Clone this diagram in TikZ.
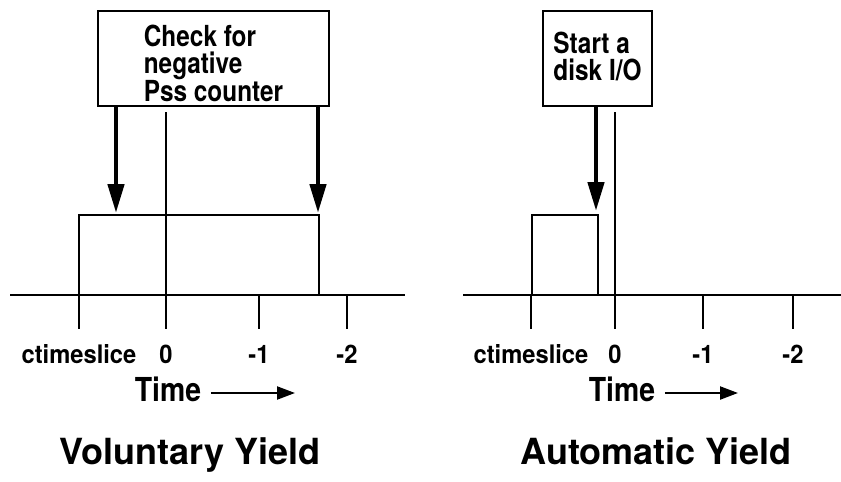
\documentclass[tikz,border=0pt]{standalone}
\usepackage{fontspec}
\setmainfont{TeX Gyre Heros}
\newfontfamily\boxfont[FakeStretch=0.84]{TeX Gyre Heros}
\newfontfamily\labfont[FakeStretch=0.93]{TeX Gyre Heros}
\newfontfamily\timefont[FakeStretch=0.86]{TeX Gyre Heros}
\usetikzlibrary{arrows.meta}

\begin{document}
\begin{tikzpicture}[x=1pt, y=-1pt, line width=1.6pt,
  eventbox/.style={draw, line width=1.8pt, inner sep=0pt, minimum height=95pt,
    text height=10pt, font=\boxfont\bfseries\fontsize{29}{27.5}\selectfont},
  yieldarrow/.style={line width=4.6pt, -{Triangle[width=16pt,length=29pt]}},
  ticklabel/.style={anchor=base, inner sep=0pt,
    font=\labfont\bfseries\fontsize{25.5}{30}\selectfont},
  timelabel/.style={anchor=base west, inner sep=0pt,
    font=\timefont\bfseries\fontsize{33}{38}\selectfont},
  timearrow/.style={line width=2.2pt, -{Triangle[width=13pt,length=18pt]}},
  yieldtitle/.style={anchor=base, inner sep=0pt,
    font=\bfseries\fontsize{36}{43}\selectfont}]
  \useasboundingbox (0,0) rectangle (841,482);

  %% Voluntary yield
  \node[eventbox, minimum width=231pt, text depth=35pt] (chk) at (213.5,58.5)
    {\vtop{\hbox{Check for}\hbox{negative}\hbox{Pss counter}}};
  \coordinate (chkL) at (116,213);
  \coordinate (chkR) at (318,213);
  \draw[yieldarrow] (chk.south -| chkL) -- (chkL);
  \draw[yieldarrow] (chk.south -| chkR) -- (chkR);

  %% time slice and axis
  \draw (79,295) rectangle (319,215);
  \draw (10,295) -- (405,295);
  \draw (166,112) -- (166,329);
  \foreach \t in {79,259,347}
    \draw (\t,295) -- (\t,329);
  \foreach \t/\lab/\nm in {79/ctimeslice/lc, 166/0/lz, 259/-1/lo, 347/-2/lt}
    \node[ticklabel] (\nm) at (\t,363) {\lab};

  \node[timelabel] (ltime) at (134,401) {Time};
  \coordinate (ltimeend) at (295,393);
  \draw[timearrow] (ltime.base east |- ltimeend) ++(9pt,0) -- (ltimeend);
  \node[yieldtitle] (vol) at (190,464) {Voluntary Yield};

  %% Automatic yield
  \node[eventbox, minimum width=109pt, text depth=21pt] (dsk) at (597.5,58.5)
    {\vtop{\hbox{Start a}\hbox{disk I/O}}};
  \coordinate (dskA) at (596,211);
  \draw[yieldarrow] (dsk.south -| dskA) -- (dskA);

  \draw (532,295) rectangle (598,215);
  \draw (463,295) -- (841,295);
  \draw (615,112) -- (615,329);
  \foreach \t in {531,703,793}
    \draw (\t,295) -- (\t,329);
  \foreach \t/\lab/\nm in {531/ctimeslice/rc, 615/0/rz, 703/-1/ro, 793/-2/rt}
    \node[ticklabel] (\nm) at (\t,363) {\lab};

  \node[timelabel] (rtime) at (588,401) {Time};
  \coordinate (rtimeend) at (738,393);
  \draw[timearrow] (rtime.base east |- rtimeend) ++(9pt,0) -- (rtimeend);
  \node[yieldtitle] (aut) at (656,464) {Automatic Yield};
\end{tikzpicture}
\end{document}
